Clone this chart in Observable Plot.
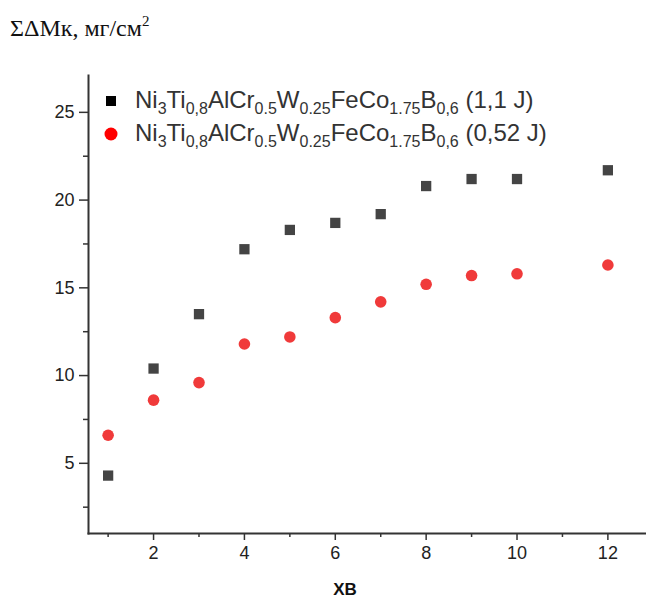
<!DOCTYPE html>
<html>
<head>
<meta charset="utf-8">
<script src="https://cdn.jsdelivr.net/npm/d3@7"></script>
<script src="https://cdn.jsdelivr.net/npm/@observablehq/plot@0.6"></script>
<style>
  html, body { margin: 0; padding: 0; background: #fff; }
  #wrap { position: relative; width: 646px; height: 600px; overflow: hidden; }
  #title { position: absolute; left: 10px; top: 15px; font-family: "Liberation Serif", "DejaVu Serif", serif; font-size: 24px; color: #111; white-space: nowrap; }
  #title sup { font-size: 15px; vertical-align: 10px; line-height: 0; }
  #chart { position: absolute; left: 0; top: 55px; }
  #legend { position: absolute; left: 100px; top: 84px; font-family: "Liberation Sans", Arial, sans-serif; font-size: 24px; color: #333; }
  #legend .row { position: relative; height: 33px; line-height: 32px; white-space: nowrap; padding-left: 35px; }
  #legend sub { font-size: 16px; vertical-align: -6px; line-height: 0; }
  #legend .mk { position: absolute; left: 4px; top: 10px; }
  #xlabel { position: absolute; left: 345px; top: 580px; transform: translateX(-50%); font-family: "Liberation Sans", Arial, sans-serif; font-weight: bold; font-size: 17px; color: #111; }
</style>
</head>
<body>
<div id="wrap">
  <div id="title">ΣΔMк, мг/см<sup>2</sup></div>
  <div id="chart"></div>
  <div id="legend"></div>
  <div id="xlabel">ХВ</div>
</div>
<script>
// Data
const times = [1, 2, 3, 4, 5, 6, 7, 8, 9, 10, 12];
const seriesHigh = [4.3, 10.4, 13.5, 17.2, 18.3, 18.7, 19.2, 20.8, 21.2, 21.2, 21.7]; // (1,1 J)
const seriesLow  = [6.6, 8.6, 9.6, 11.8, 12.2, 13.3, 14.2, 15.2, 15.7, 15.8, 16.3];  // (0,52 J)
const seriesNames = ["(1,1 J)", "(0,52 J)"];
const xMajorTicks = [2, 4, 6, 8, 10, 12];
const xMinorTicks = [1, 3, 5, 7, 9, 11];
const yMajorTicks = [5, 10, 15, 20, 25];
const yMinorTicks = [2.5, 7.5, 12.5, 17.5, 22.5];

const rowsHigh = times.map((t, i) => ({t, v: seriesHigh[i]}));
const rowsLow = times.map((t, i) => ({t, v: seriesLow[i]}));

const axisColor = "#333";
const noLabel = () => "";
const chart = Plot.plot({
  width: 646,
  height: 545,
  marginLeft: 88,
  marginRight: 0,
  marginTop: 20,
  marginBottom: 67,
  style: {fontFamily: "'Liberation Sans', Arial, sans-serif", fontSize: "18px", color: "#222", background: "#fff"},
  x: {domain: [0.568, 12.85]},
  y: {domain: [1, 27.1]},
  marks: [
    Plot.axisX({ticks: xMinorTicks, tickSize: 4, tickFormat: noLabel, label: null, stroke: axisColor, strokeWidth: 1.5}),
    Plot.axisX({ticks: xMajorTicks, tickSize: 7, tickPadding: 6, tickFormat: d => String(d), label: null, stroke: axisColor, strokeWidth: 1.5, fill: "#222", fontSize: 18}),
    Plot.axisY({ticks: yMinorTicks, tickSize: 5, tickFormat: noLabel, label: null, stroke: axisColor, strokeWidth: 1.5}),
    Plot.axisY({ticks: yMajorTicks, tickSize: 9, tickPadding: 5, tickFormat: d => String(d), label: null, stroke: axisColor, strokeWidth: 1.5, fill: "#222", fontSize: 18}),
    Plot.frame({anchor: "left", stroke: axisColor, strokeWidth: 2}),
    Plot.frame({anchor: "bottom", stroke: axisColor, strokeWidth: 2}),
    Plot.dot(rowsHigh, {x: "t", y: "v", symbol: "square", r: 5.8, fill: "#444", stroke: "none"}),
    Plot.dot(rowsLow, {x: "t", y: "v", symbol: "circle", r: 5.8, fill: "#f03a3a", stroke: "none"})
  ]
});
document.getElementById("chart").appendChild(chart);

// Legend
const formula = 'Ni<sub>3</sub>Ti<sub>0,8</sub>AlCr<sub>0.5</sub>W<sub>0.25</sub>FeCo<sub>1.75</sub>B<sub>0,6</sub> ';
const markers = [
  '<svg class="mk" width="14" height="14"><rect x="2" y="2" width="10" height="10" fill="#000"/></svg>',
  '<svg class="mk" width="16" height="16"><circle cx="7" cy="7" r="6.5" fill="#ff0000"/></svg>'
];
document.getElementById("legend").innerHTML = seriesNames.map((n, i) =>
  `<div class="row">${markers[i]}${formula}${n}</div>`).join("");
</script>
</body>
</html>
